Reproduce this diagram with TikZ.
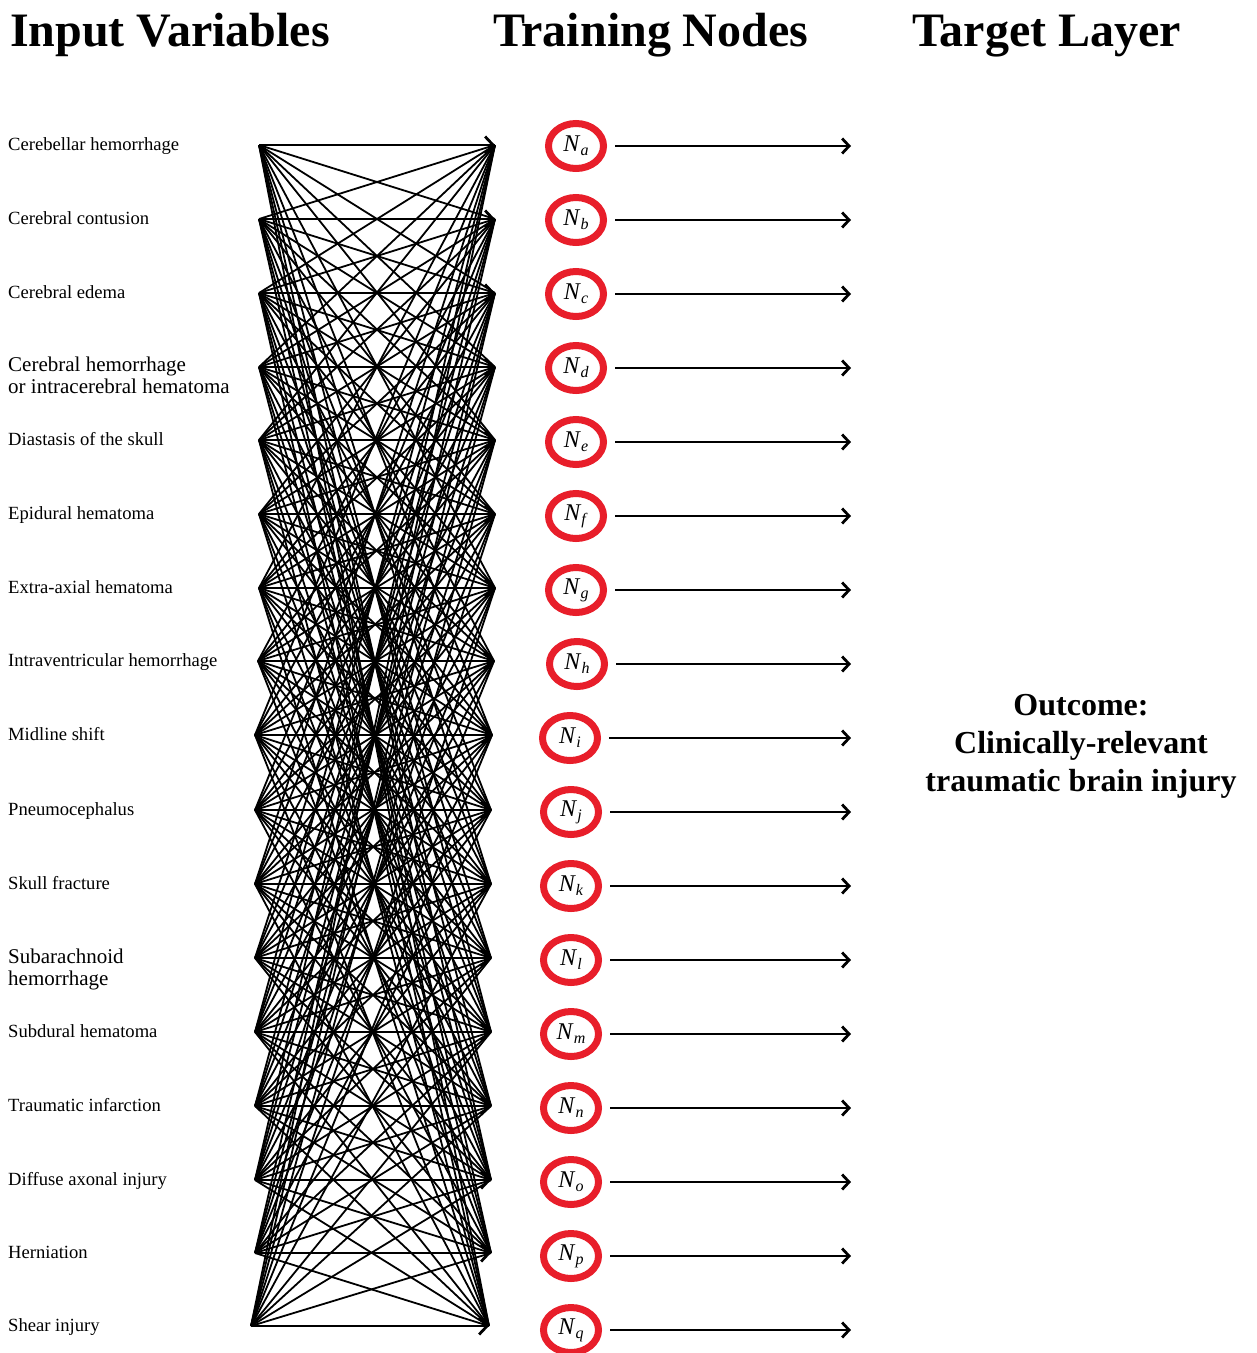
\documentclass[tikz,border=0pt]{standalone}
\usepackage{fontspec}
\setmainfont{Liberation Serif}
\usetikzlibrary{arrows.meta,shapes.geometric}
\definecolor{ringred}{RGB}{232,30,42}
\begin{document}
\begin{tikzpicture}[x=1pt,y=-1pt,
  conn/.style={line width=1.8pt,black},
  harrow/.style={line width=1.9pt,-{Straight Barb[length=8pt,width=17pt,line width=2.8pt]}},
  outarrow/.style={line width=1.6pt,-{Straight Barb[length=7pt,width=15pt,line width=2.8pt]}},
  ring/.style={ellipse,draw=ringred,line width=7pt,minimum width=55pt,minimum height=45pt,inner sep=0pt,font=\fontsize{24}{26}\selectfont},
  inlabel/.style={anchor=base west,inner sep=0pt,font=\fontsize{18.6}{22}\selectfont},
  inlabelbig/.style={anchor=base west,inner sep=0pt,align=left,font=\fontsize{21}{22}\selectfont},
  title/.style={anchor=base west,inner sep=0pt,font=\fontsize{48}{50}\selectfont\bfseries}]
\useasboundingbox (0,0) rectangle (1257,1353);
% titles
\node[title] (t1) at (10,46) {Input Variables};
\node[title] (t2) at (493,46) {Training Nodes};
\node[title] (t3) at (912,46) {Target Layer};
% rows
\foreach \i/\y/\lx/\rx/\nx/\ny/\ltr in {
  0/145/259/495/576/146/a, 1/219/259/495/576/220/b, 2/293/259/495/576/294/c,
  3/367/259/495/576/368/d, 4/440/259/495/576/442/e, 5/514/259/495/576/516/f,
  6/588/259/495/576/590/g, 7/661/258/494/577/664/h, 8/735/255/492/570/738/i,
  9/810/255/491/571/812/j, 10/884/255/491/571/886/k, 11/958/255/491/571/960/l,
  12/1032/255/491/571/1034/m, 13/1106/255/491/571/1108/n, 14/1180/255/491/571/1182/o,
  15/1253/255/491/571/1256/p, 16/1326/251/489/571/1330/q}{
  \coordinate (L\i) at (\lx,\y);
  \coordinate (R\i) at (\rx,\y);
  \node[ring] (N\i) at (\nx,\ny) {\textit{N}\raisebox{-0.35ex}{\fontsize{16}{18}\selectfont\textit{\ltr}}};
  \coordinate (T\i) at (851,\ny);
  \draw[outarrow] (N\i.east) ++(8pt,0) coordinate (S\i) -- (T\i);
}
% input labels
\node[inlabel] (in0) at (8,150) {Cerebellar hemorrhage};
\node[inlabel] (in1) at (8,224) {Cerebral contusion};
\node[inlabel] (in2) at (8,298) {Cerebral edema};
\node[inlabelbig] (in3) at (8,371) {Cerebral hemorrhage};
\node[inlabelbig] (in3b) at (8,393) {or intracerebral hematoma};
\node[inlabel] (in4) at (8,445) {Diastasis of the skull};
\node[inlabel] (in5) at (8,519) {Epidural hematoma};
\node[inlabel] (in6) at (8,593) {Extra-axial hematoma};
\node[inlabel] (in7) at (8,666) {Intraventricular hemorrhage};
\node[inlabel] (in8) at (8,740) {Midline shift};
\node[inlabel] (in9) at (8,815) {Pneumocephalus};
\node[inlabel] (in10) at (8,889) {Skull fracture};
\node[inlabelbig] (in11) at (8,963) {Subarachnoid};
\node[inlabelbig] (in11b) at (8,985) {hemorrhage};
\node[inlabel] (in12) at (8,1037) {Subdural hematoma};
\node[inlabel] (in13) at (8,1111) {Traumatic infarction};
\node[inlabel] (in14) at (8,1185) {Diffuse axonal injury};
\node[inlabel] (in15) at (8,1258) {Herniation};
\node[inlabel] (in16) at (8,1331) {Shear injury};
% connections
\foreach \i in {0,...,16}{
  \draw[harrow] (L\i) -- (R\i);
  \foreach \d in {1,2,3,4,6,8,10,12,14,16}{
    \pgfmathtruncatemacro{\jup}{\i-\d}
    \pgfmathtruncatemacro{\jdn}{\i+\d}
    \ifnum\jdn<17\relax \draw[conn] (L\i) -- (R\jdn); \fi
    \ifnum\jup>-1\relax \draw[conn] (L\i) -- (R\jup); \fi
  }
}
% outcome
\node[align=center,font=\fontsize{32}{38}\selectfont\bfseries] (out) at (1081,746)
  {Outcome:\\Clinically-relevant\\traumatic brain injury};
\end{tikzpicture}
\end{document}
